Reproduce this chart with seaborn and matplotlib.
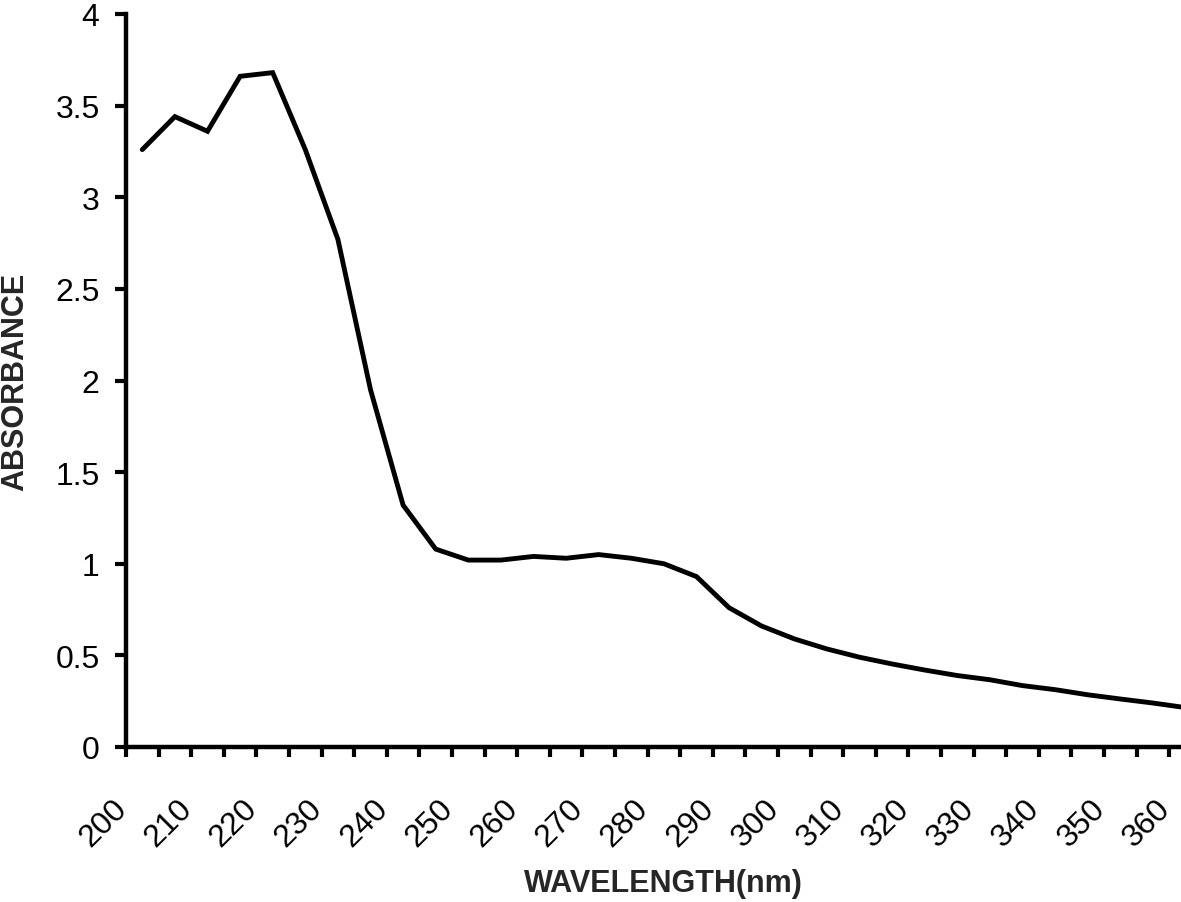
import numpy as np
import pandas as pd
import matplotlib
matplotlib.use("Agg")
import matplotlib.pyplot as plt
import matplotlib.transforms as mtransforms
import seaborn as sns

# ---- data ----
wavelength = [200, 205, 210, 215, 220, 225, 230, 235, 240, 245, 250, 255, 260,
              265, 270, 275, 280, 285, 290, 295, 300, 305, 310, 315, 320, 325,
              330, 335, 340, 345, 350, 355, 360]
absorbance = [3.26, 3.44, 3.36, 3.66, 3.68, 3.26, 2.77, 1.95, 1.32, 1.08, 1.02,
              1.02, 1.04, 1.03, 1.05, 1.03, 1.00, 0.93, 0.76, 0.66, 0.59, 0.535,
              0.49, 0.453, 0.42, 0.39, 0.367, 0.335, 0.313, 0.285, 0.262, 0.24,
              0.215]
xtick_labels = [str(v) for v in range(200, 361, 10)]
ytick_values = [0, 0.5, 1, 1.5, 2, 2.5, 3, 3.5, 4]
ytick_labels = ["0", "0.5", "1", "1.5", "2", "2.5", "3", "3.5", "4"]

df = pd.DataFrame({"wavelength": wavelength, "absorbance": absorbance})

sns.set_theme(style="ticks")
plt.rcParams["font.family"] = ["Liberation Sans", "DejaVu Sans"]

W, H = 1181, 903
fig = plt.figure(figsize=(W / 100, H / 100), dpi=100)
left_px, right_px = 126, 126 + 33 * 32.6
bottom_px, top_px = 748, 15
ax = fig.add_axes([left_px / W, (H - bottom_px) / H,
                   (right_px - left_px) / W, (bottom_px - top_px) / H])

sns.lineplot(data=df, x="wavelength", y="absorbance", ax=ax, color="black",
             linewidth=3.5, solid_joinstyle="miter", clip_on=False)

ax.set_xlim(197.5, 362.5)
ax.set_ylim(0, 4)

for s in ["top", "right"]:
    ax.spines[s].set_visible(False)
for s in ["left", "bottom"]:
    ax.spines[s].set_linewidth(3.2)
    ax.spines[s].set_color("black")

# y ticks
ax.set_yticks(ytick_values)
ax.set_yticklabels(ytick_labels)
ax.tick_params(axis="y", which="major", left=True, direction="out", length=8,
               width=3.0, color="black", pad=11, labelsize=23,
               labelcolor="black")

# x ticks: marks between categories, labels at every other category
ax.set_xticks(np.arange(197.5, 362.6, 5.0))
ax.set_xticklabels([])
ax.set_xticks([float(v) for v in xtick_labels], minor=True)
ax.set_xticklabels(xtick_labels, minor=True)
ax.tick_params(axis="x", which="major", bottom=True, direction="out",
               length=7.5, width=3.0, color="black")
ax.tick_params(axis="x", which="minor", bottom=True, length=0, pad=41,
               labelsize=23, labelcolor="black")
offset = mtransforms.ScaledTranslation(-20 / 100, 0, fig.dpi_scale_trans)
for lbl in ax.get_xticklabels(minor=True):
    lbl.set_rotation(45)
    lbl.set_ha("right")
    lbl.set_va("center")
    lbl.set_rotation_mode("anchor")
    lbl.set_transform(lbl.get_transform() + offset)

ax.set_xlabel("WAVELENGTH(nm)", fontsize=22, fontweight="bold", va="center")
ax.xaxis.set_label_coords(0.5, (bottom_px - 884) / (bottom_px - top_px))
ax.set_ylabel("ABSORBANCE", fontsize=22, fontweight="bold", va="center")
ax.yaxis.set_label_coords((15 - left_px) / (right_px - left_px), 0.5)

ax.grid(False)
fig.savefig("out.png", dpi=100, facecolor="white")
